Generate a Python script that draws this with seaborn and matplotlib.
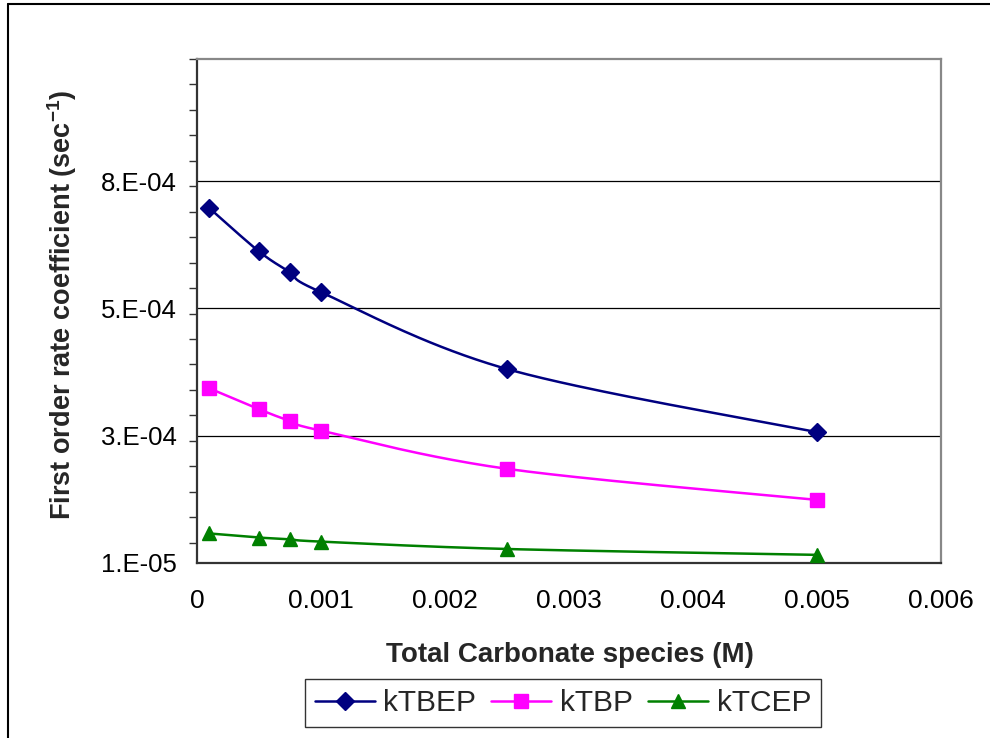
import numpy as np
import pandas as pd
import matplotlib
matplotlib.use("Agg")
import matplotlib.pyplot as plt
from matplotlib.lines import Line2D
from matplotlib.ticker import FixedLocator, MultipleLocator
import seaborn as sns

# Total carbonate concentration (M)
carbonate = [0.0001, 0.0005, 0.00075, 0.001, 0.0025, 0.005]

# First order rate coefficients (1/s)
k_tbep = [7.07e-4, 6.22e-4, 5.81e-4, 5.42e-4, 3.91e-4, 2.67e-4]
k_tbp = [3.53e-4, 3.12e-4, 2.89e-4, 2.70e-4, 1.95e-4, 1.34e-4]
k_tcep = [6.8e-5, 6.0e-5, 5.65e-5, 5.2e-5, 3.75e-5, 2.6e-5]

series_names = ["kTBEP", "kTBP", "kTCEP"]
series_values = [k_tbep, k_tbp, k_tcep]
colors = ["#000080", "#FF00FF", "#008000"]
markers = ["D", "s", "^"]
marker_sizes = [9, 10.5, 10.5]

y_ticks = [1e-5, 2.6e-4, 5.1e-4, 7.6e-4]
y_tick_labels = ["1.E-05", "3.E-04", "5.E-04", "8.E-04"]
x_ticks = [0, 0.001, 0.002, 0.003, 0.004, 0.005, 0.006]
x_tick_labels = ["0", "0.001", "0.002", "0.003", "0.004", "0.005", "0.006"]


def smooth_curve(xs, ys, n=40):
    """Catmull-Rom style smoothing through the given points."""
    pts = np.column_stack([xs, ys]).astype(float)
    ext = np.vstack([pts[0], pts, pts[-1]])
    out = []
    t = np.linspace(0, 1, n)
    for i in range(1, len(ext) - 2):
        p0, p1, p2, p3 = ext[i - 1], ext[i], ext[i + 1], ext[i + 2]
        c1 = p1 + (p2 - p0) / 6.0
        c2 = p2 - (p3 - p1) / 6.0
        seg = ((1 - t) ** 3)[:, None] * p1 + (3 * (1 - t) ** 2 * t)[:, None] * c1 \
            + (3 * (1 - t) * t ** 2)[:, None] * c2 + (t ** 3)[:, None] * p2
        out.append(seg if i == 1 else seg[1:])
    out = np.vstack(out)
    return out[:, 0], out[:, 1]


sns.set_theme(style="white")
plt.rcParams["font.family"] = ["Liberation Sans", "DejaVu Sans"]
plt.rcParams["mathtext.fontset"] = "custom"
plt.rcParams["mathtext.rm"] = "Liberation Sans"
plt.rcParams["mathtext.bf"] = "Liberation Sans:bold"

fig = plt.figure(figsize=(9.9, 7.38), dpi=100)
ax = fig.add_axes([197 / 990, 1 - 563 / 738, (941 - 197) / 990, (563 - 59) / 738])

# Page border lines (top and left)
fig.add_artist(Line2D([8 / 990, 1.0], [1 - 4 / 738, 1 - 4 / 738], color="black", lw=1.5,
                      transform=fig.transFigure))
fig.add_artist(Line2D([8 / 990, 8 / 990], [0, 1 - 4 / 738], color="black", lw=1.5,
                      transform=fig.transFigure))

for name, vals, col, mk, ms in zip(series_names, series_values, colors, markers, marker_sizes):
    sx, sy = smooth_curve(carbonate, vals)
    curve = pd.DataFrame({"x": sx, "y": sy})
    sns.lineplot(data=curve, x="x", y="y", ax=ax, color=col, lw=1.8, sort=False,
                 estimator=None, legend=False, zorder=3)
    pts = pd.DataFrame({"x": carbonate, "y": vals})
    ax.plot(pts["x"], pts["y"], linestyle="none", marker=mk, markersize=ms,
            color=col, markeredgecolor=col, zorder=4)

ax.set_xlim(0, 0.006)
ax.set_ylim(1e-5, 1.0e-3)

ax.yaxis.set_major_locator(FixedLocator(y_ticks))
ax.set_yticklabels(y_tick_labels)
ax.yaxis.set_minor_locator(MultipleLocator(5e-5))
ax.set_xticks(x_ticks)
ax.set_xticklabels(x_tick_labels)

ax.grid(axis="y", which="major", color="black", lw=0.9)
ax.set_axisbelow(True)

ax.tick_params(axis="both", which="major", direction="out", length=5.5, width=1,
               color="#333333", labelcolor="black")
ax.tick_params(axis="y", which="minor", direction="out", length=5.5, width=1,
               color="#333333", left=True)
ax.tick_params(axis="x", which="major", pad=13, labelsize=19)
ax.tick_params(axis="y", which="major", pad=9, labelsize=18.5)

for side in ["left", "bottom"]:
    ax.spines[side].set_color("#333333")
    ax.spines[side].set_linewidth(1.6)
for side in ["top", "right"]:
    ax.spines[side].set_color("#888888")
    ax.spines[side].set_linewidth(1.6)

ax.set_xlabel("Total Carbonate species (M)", fontsize=20, fontweight="bold", va="center")
ax.xaxis.set_label_coords((570 - 197) / 744, (563 - 655) / 504)
ax.set_ylabel(r"First order rate coefficient (sec$^{\mathbf{-1}}$)", fontsize=19.5,
              fontweight="bold", va="center")
ax.yaxis.set_label_coords((62 - 197) / 744, (563 - 305) / 504)

handles = [Line2D([], [], color=c, lw=1.8, marker=m, markersize=ms, markeredgecolor=c)
           for c, m, ms in zip(colors, markers, marker_sizes)]
leg = fig.legend(handles, series_names, loc="center", bbox_to_anchor=(563 / 990, 1 - 703 / 738),
                 ncol=3, fontsize=21.5, frameon=True, fancybox=False, edgecolor="black",
                 handlelength=2.0, handletextpad=0.3, columnspacing=0.5, borderpad=0.32,
                 borderaxespad=0)
leg.get_frame().set_linewidth(1.0)

fig.savefig("out.png", dpi=100, facecolor="white")
